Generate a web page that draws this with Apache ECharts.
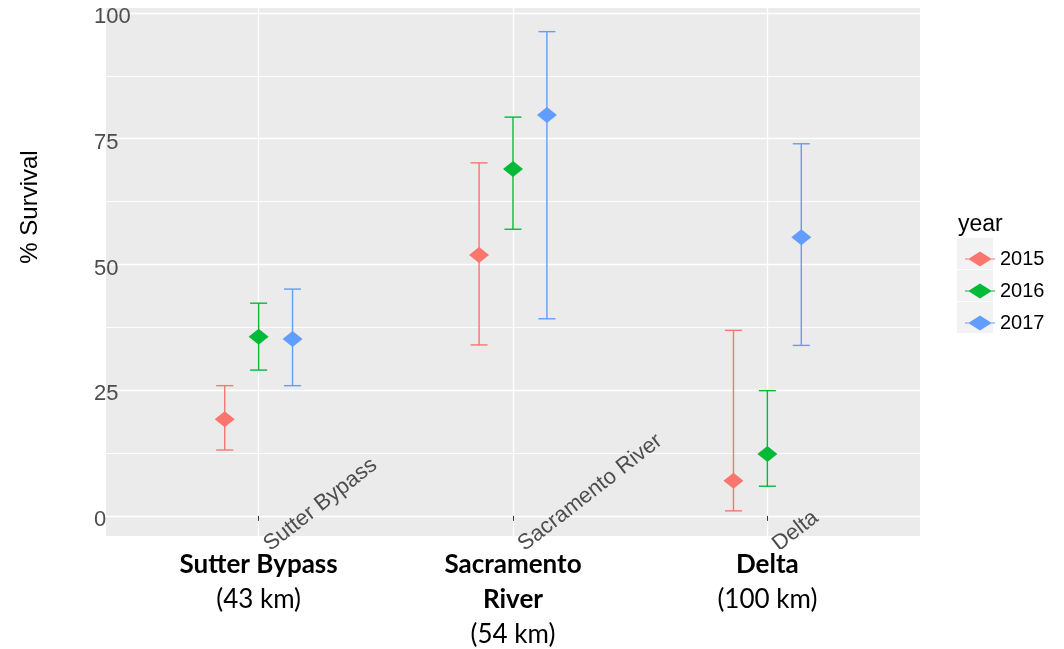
<!DOCTYPE html>
<html>
<head>
<meta charset="utf-8">
<script src="https://cdn.jsdelivr.net/npm/echarts@6/dist/echarts.min.js"></script>
<style>
  html, body { margin: 0; padding: 0; background: #fff; }
  #chart { width: 1064px; height: 649px; }
</style>
</head>
<body>
<div id="chart"></div>
<script>
// sites along the river and their distance
const sites = ['Sutter Bypass', 'Sacramento River', 'Delta'];
const siteLines = [['Sutter Bypass'], ['Sacramento', 'River'], ['Delta']];
const siteKm = ['43 km', '54 km', '100 km'];

const years = ['2015', '2016', '2017'];
const colors = ['#F8766D', '#00BA38', '#619CFF'];

// % survival estimate, lower and upper bound per site
const survival2015 = [19.2, 51.9, 7.0];
const lower2015 = [13.1, 34.0, 1.0];
const upper2015 = [25.9, 70.2, 36.9];

const survival2016 = [35.6, 69.0, 12.3];
const lower2016 = [29.0, 57.0, 5.9];
const upper2016 = [42.3, 79.3, 24.9];

const survival2017 = [35.2, 79.7, 55.4];
const lower2017 = [25.9, 39.2, 33.9];
const upper2017 = [45.1, 96.3, 74.0];

const yTicks = [0, 25, 50, 75, 100];
const yMinor = [12.5, 37.5, 62.5, 87.5];

const survival = [survival2015, survival2016, survival2017];
const lower = [lower2015, lower2016, lower2017];
const upper = [upper2015, upper2016, upper2017];
const dodge = [-0.1333, 0, 0.1333];

const chart = echarts.init(document.getElementById('chart'));

const series = [];
years.forEach((yr, k) => {
    series.push({
        name: yr,
        type: 'custom',
        z: 3,
        itemStyle: { color: colors[k] },
        data: sites.map((s, i) => [i + 1 + dodge[k], lower[k][i], upper[k][i]]),
        renderItem(params, api) {
            const x = api.value(0);
            const lo = api.coord([x, api.value(1)]);
            const hi = api.coord([x, api.value(2)]);
            const w = 8.5;
            const style = { stroke: colors[k], lineWidth: 1.4, fill: null };
            return {
                type: 'group',
                children: [
                    { type: 'line', shape: { x1: lo[0], y1: lo[1], x2: hi[0], y2: hi[1] }, style },
                    { type: 'line', shape: { x1: lo[0] - w, y1: lo[1], x2: lo[0] + w, y2: lo[1] }, style },
                    { type: 'line', shape: { x1: hi[0] - w, y1: hi[1], x2: hi[0] + w, y2: hi[1] }, style }
                ]
            };
        }
    });
    series.push({
        name: yr,
        type: 'scatter',
        z: 4,
        symbol: 'diamond',
        symbolSize: [20, 16],
        itemStyle: { color: colors[k], opacity: 1 },
        data: sites.map((s, i) => [i + 1 + dodge[k], survival[k][i]])
    });
});

const legendIcon = 'path://M0,7 L4,7 L15,0 L26,7 L30,7 L30,8 L26,8 L15,15 L4,8 L0,8 Z';

const option = {
    animation: false,
    backgroundColor: '#ffffff',
    grid: {
        left: 106, right: 144, top: 8, bottom: 113,
        outerBoundsMode: 'none',
        backgroundColor: '#EBEBEB', show: true, borderWidth: 0
    },
    xAxis: [{
        type: 'value',
        min: 0.4,
        max: 3.6,
        axisLine: { show: false },
        axisTick: { show: true, customValues: [1, 2, 3], length: 5, lineStyle: { color: '#333333', width: 1 } },
        splitLine: { show: true, lineStyle: { color: '#ffffff', width: 1.3 } },
        axisLabel: {
            customValues: [1, 2, 3],
            formatter: v => sites[Math.round(v) - 1],
            rotate: 38,
            align: 'left',
            verticalAlign: 'middle',
            margin: 17,
            padding: [0, 0, 0, 10],
            color: '#4D4D4D',
            fontFamily: 'Liberation Sans',
            fontSize: 22
        }
    }, {
        type: 'value',
        position: 'bottom',
        min: 0.4,
        max: 3.6,
        z: 100,
        axisLine: { show: false },
        axisTick: { show: false },
        splitLine: { show: false },
        axisLabel: {
            customValues: [1, 2, 3],
            margin: 11,
            lineHeight: 35,
            formatter: v => {
                const i = Math.round(v) - 1;
                return siteLines[i].map(t => '{b|' + t + '}').join('\n') + '\n{n|(' + siteKm[i] + ')}';
            },
            rich: {
                b: { fontFamily: 'Lato', fontWeight: 'bold', fontSize: 26, color: '#000', lineHeight: 35 },
                n: { fontFamily: 'Lato', fontSize: 26, color: '#000', lineHeight: 35 }
            }
        }
    }],
    yAxis: [{
        type: 'value',
        min: -4,
        max: 101,
        axisLine: { show: false },
        axisTick: { show: false, customValues: yTicks },
        splitLine: { show: true, lineStyle: { color: '#ffffff', width: 1.3 } },
        axisLabel: {
            customValues: yTicks,
            align: 'left',
            verticalAlign: 'top',
            lineHeight: 8,
            margin: 12,
            color: '#4D4D4D',
            fontFamily: 'Liberation Sans',
            fontSize: 22
        }
    }, {
        type: 'value',
        min: -4,
        max: 101,
        position: 'left',
        axisLine: { show: false },
        axisTick: { show: false, customValues: yMinor },
        axisLabel: { show: false, customValues: yMinor },
        splitLine: { show: true, lineStyle: { color: '#ffffff', width: 0.9 } }
    }],
    legend: {
        orient: 'vertical',
        left: 960,
        top: 244,
        itemWidth: 30,
        itemHeight: 15,
        itemGap: 12,
        itemTextGap: 8,
        selectedMode: false,
        textStyle: { fontFamily: 'Liberation Sans', fontSize: 20, lineHeight: 20, color: '#000' },
        data: years.map((y, k) => ({ name: y, icon: legendIcon, itemStyle: { color: colors[k] } }))
    },
    graphic: [
        { type: 'rect', z: 50, shape: { x: 106, y: 549, width: 814, height: 100 }, style: { fill: '#ffffff' } },
        { type: 'rect', shape: { x: 957, y: 238, width: 36, height: 31 }, style: { fill: '#F2F2F2' } },
        { type: 'rect', shape: { x: 957, y: 270, width: 36, height: 31 }, style: { fill: '#F2F2F2' } },
        { type: 'rect', shape: { x: 957, y: 302, width: 36, height: 31 }, style: { fill: '#F2F2F2' } },
        {
            type: 'text', x: 958, y: 225,
            style: { text: 'year', fontFamily: 'Liberation Sans', fontSize: 23, fill: '#000', textVerticalAlign: 'middle' }
        },
        {
            type: 'text', x: 30, y: 207, rotation: Math.PI / 2,
            style: { text: '% Survival', fontFamily: 'Liberation Sans', fontSize: 24, fill: '#000', textAlign: 'center', textVerticalAlign: 'middle' }
        }
    ],
    series: series
};

chart.setOption(option);
</script>
</body>
</html>
